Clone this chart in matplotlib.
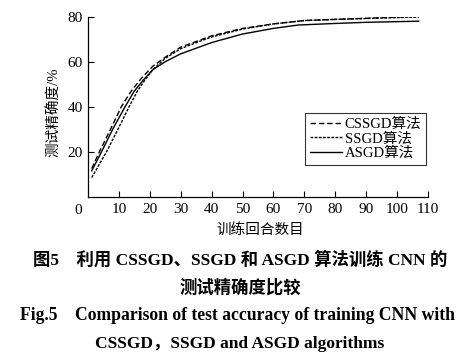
import numpy as np
import matplotlib
matplotlib.use('Agg')
import matplotlib.pyplot as plt

# curves (epoch, test accuracy %)
Epochs_CSSGD = [1.2, 3.7, 7.3, 10.8, 14, 17.5, 21, 25, 30, 36, 40, 50, 60, 70, 80, 90, 100, 107]
Acc_CSSGD = [12.5, 20, 30, 40, 47, 53, 58, 62, 66.5, 69.5, 71.5, 74.8, 76.8, 78.3, 78.8, 79.3, 79.8, 80.3]

Epochs_SSGD = [1.2, 6, 9.7, 13.3, 16, 18.5, 21, 25, 30, 36, 40, 50, 60, 70, 80, 90, 100, 107]
Acc_SSGD = [8.5, 20, 30, 40, 47, 52, 56.5, 61.5, 65.8, 69, 71, 74.5, 76.8, 78.3, 78.8, 79.2, 79.6, 79.8]

Epochs_ASGD = [1.2, 4.4, 8, 12, 15, 18, 21, 25, 30, 36, 40, 50, 60, 68, 80, 90, 100, 107]
Acc_ASGD = [11.5, 20, 30, 40, 47, 52, 56.5, 60, 63.5, 66.5, 68.5, 72.3, 74.8, 76.3, 77, 77.5, 77.8, 78]

Labels = ['CSSGD算法', 'SSGD算法', 'ASGD算法']
XTicks = [10, 20, 30, 40, 50, 60, 70, 80, 90, 100, 110]
YTicks = [20, 40, 60, 80]

Fonts = ['Liberation Serif', 'Noto Sans CJK SC']
plt.rcParams['font.family'] = Fonts
plt.rcParams['font.size'] = 11

fig = plt.figure(figsize=(4.72, 3.6), dpi=100)
ax = fig.add_axes([88/472, 1-196.7/360, 340/472, 180/360])

ax.plot(Epochs_CSSGD, Acc_CSSGD, color='black', lw=1.0, linestyle=(0, (4, 2)), label=Labels[0])
ax.plot(Epochs_SSGD, Acc_SSGD, color='black', lw=1.0, linestyle=(0, (2, 1)), label=Labels[1])
ax.plot(Epochs_ASGD, Acc_ASGD, color='black', lw=1.0, linestyle='-', label=Labels[2])

ax.set_xlim(0, 110)
ax.set_ylim(0, 80)
ax.set_xticks(XTicks)
ax.set_yticks(YTicks)
ax.tick_params(direction='in', length=4, width=0.8, labelsize=11)
ax.tick_params(axis='x', pad=4.5)
ax.tick_params(axis='y', pad=3.6)
for s in ['top', 'right']:
  ax.spines[s].set_visible(False)
for s in ['left', 'bottom']:
  ax.spines[s].set_linewidth(0.9)
fig.text(78/472, 1-211/360, '0', ha='center', va='center', fontsize=11)

ax.set_xlabel('训练回合数目', fontsize=10.5)
ax.set_ylabel('测试精确度/%', fontsize=10.5)
ax.xaxis.set_label_coords((260-88)/340, (196.7-230)/180)
ax.yaxis.set_label_coords((53-88)/340, (196.7-112)/180)
ax.xaxis.label.set_va('center')
ax.yaxis.label.set_va('center')

leg = ax.legend(loc='upper right', bbox_to_anchor=(0.994, 0.465), frameon=True, fancybox=False,
                edgecolor='black', handlelength=2.2, handletextpad=0.2, labelspacing=0.1,
                borderpad=0.3, borderaxespad=0, fontsize=10.5)
leg.get_frame().set_linewidth(0.8)

fig.text(240/472, 1-260/360, '图5    利用 CSSGD、SSGD 和 ASGD 算法训练 CNN 的', ha='center', va='center',
         fontsize=12.5, fontweight='bold')
fig.text(240/472, 1-288/360, '测试精确度比较', ha='center', va='center', fontsize=12.5, fontweight='bold')
fig.text(238/472, 1-316/360, 'Fig.5    Comparison of test accuracy of training CNN with', ha='center', va='center',
         fontsize=12.7, fontweight='bold')
fig.text(240/472, 1-344/360, 'CSSGD，SSGD and ASGD algorithms', ha='center', va='center', fontsize=12.5, fontweight='bold')

fig.savefig('out.png', dpi=100)
